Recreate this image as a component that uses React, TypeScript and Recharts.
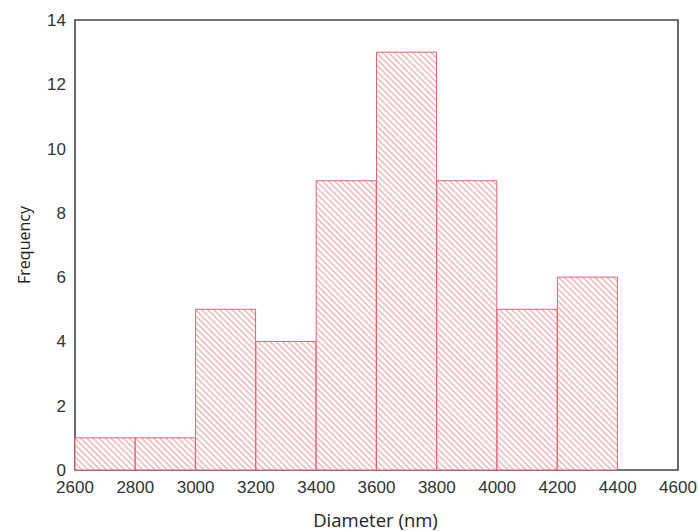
import React from "react";
import { BarChart, Bar, XAxis, YAxis, Label, ReferenceArea } from "recharts";

const binStarts = [2600, 2800, 3000, 3200, 3400, 3600, 3800, 4000, 4200];
const binWidth = 200;
const frequencies = [1, 1, 5, 4, 9, 13, 9, 5, 6];
const xTicks = [2600, 2800, 3000, 3200, 3400, 3600, 3800, 4000, 4200, 4400, 4600];
const yTicks = [0, 2, 4, 6, 8, 10, 12, 14];

const data = binStarts.map((s, i) => ({ mid: s + binWidth / 2, count: frequencies[i] }));

const FONT = "'Liberation Sans', Arial, sans-serif";
const labelStyle = { fontFamily: "'Open Sans', sans-serif", fontSize: 16, fill: "#222" };

const XTick = (props: any) => {
  const { x, y, payload } = props;
  return (
    <text x={x} y={y + 21} textAnchor="middle" fontFamily={FONT} fontSize={17} fill="#333">
      {payload.value}
    </text>
  );
};

const YTick = (props: any) => {
  const { x, y, payload } = props;
  return (
    <text x={x - 7} y={y + 6} textAnchor="end" fontFamily={FONT} fontSize={17} fill="#333">
      {payload.value}
    </text>
  );
};

export default function App() {
  return (
    <div style={{ position: "absolute", left: 0, top: 0, width: 699, height: 531, background: "#fff" }}>
      <BarChart
        width={699}
        height={531}
        data={data}
        margin={{ top: 20, right: 21, bottom: 0, left: 0 }}
        barCategoryGap={0}
        barGap={0}
      >
        <defs>
          <pattern id="hatch" patternUnits="userSpaceOnUse" width="4.3" height="4.3" patternTransform="rotate(-45)">
            <rect width="4.3" height="4.3" fill="#fff" />
            <line x1="1" y1="0" x2="1" y2="4.3" stroke="#e8939b" strokeWidth="1" />
          </pattern>
        </defs>
        <XAxis
          dataKey="mid"
          type="number"
          domain={[2600, 4600]}
          ticks={xTicks}
          interval={0}
          tickLine={false}
          tickSize={0}
          height={61}
          axisLine={false}
          tick={<XTick />}
        >
          <Label value="Diameter (nm)" position="insideBottom" offset={4} dx={-1} style={{ ...labelStyle, fontSize: 18.5 }} />
        </XAxis>
        <YAxis
          domain={[0, 14]}
          ticks={yTicks}
          interval={0}
          tickLine={false}
          tickSize={0}
          width={75}
          axisLine={false}
          tick={<YTick />}
        >
          <Label value="Frequency" angle={-90} position="insideLeft" offset={24} style={{ ...labelStyle, textAnchor: "middle" }} />
        </YAxis>
        <Bar dataKey="count" fill="url(#hatch)" stroke="#e0646f" strokeWidth={1} isAnimationActive={false} />
        <ReferenceArea x1={2600} x2={4600} y1={0} y2={14} fill="none" fillOpacity={0} stroke="#444" strokeWidth={1.6} ifOverflow="visible" />
      </BarChart>
    </div>
  );
}
